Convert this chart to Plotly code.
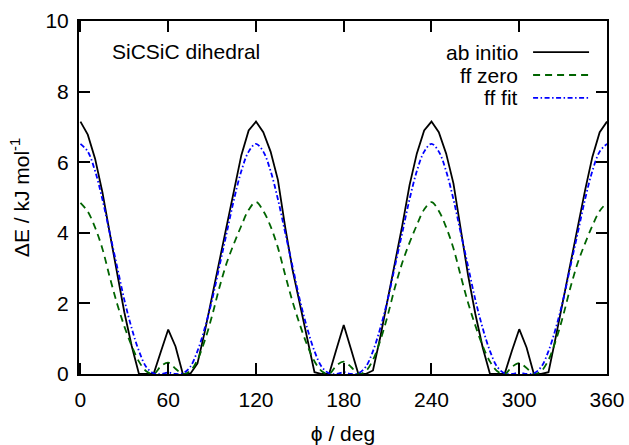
import plotly.graph_objects as go

# Dihedral angle grid (deg)
phi = [0, 5, 10, 15, 20, 25, 30, 35, 40, 45, 50, 55, 60, 65, 70, 75, 80, 85, 90, 95,
       100, 105, 110, 115, 120, 125, 130, 135, 140, 145, 150, 155, 160, 165, 170, 175,
       180, 185, 190, 195, 200, 205, 210, 215, 220, 225, 230, 235, 240, 245, 250, 255,
       260, 265, 270, 275, 280, 285, 290, 295, 300, 305, 310, 315, 320, 325, 330, 335,
       340, 345, 350, 355, 360]

# Relative energies (kJ/mol)
ab_initio = [7.15, 6.78, 6.10, 5.15, 4.00, 2.85, 1.75, 0.80, 0.00, 0.00, 0.00, 0.64, 1.26,
             0.78, 0.00, 0.00, 0.30, 1.20, 2.20, 3.30, 4.30, 5.30, 6.20, 6.90, 7.15, 6.85,
             6.30, 5.50, 4.15, 2.95, 1.95, 0.95, 0.05, 0.00, 0.00, 0.70, 1.39, 0.70, 0.00,
             0.00, 0.10, 1.05, 2.10, 3.10, 4.20, 5.35, 6.25, 6.90, 7.15, 6.85, 6.25, 5.40,
             4.05, 2.80, 1.70, 0.75, 0.00, 0.00, 0.00, 0.66, 1.27, 0.75, 0.00, 0.00, 0.05,
             1.05, 2.10, 3.15, 4.15, 5.20, 6.15, 6.85, 7.15]

ff_zero = [4.85, 4.60, 4.15, 3.55, 2.75, 2.00, 1.35, 0.80, 0.35, 0.08, 0.00, 0.22, 0.32,
           0.15, 0.00, 0.08, 0.40, 0.95, 1.65, 2.45, 3.15, 3.70, 4.20, 4.65, 4.87, 4.62,
           4.18, 3.58, 2.80, 2.05, 1.40, 0.82, 0.36, 0.08, 0.00, 0.24, 0.35, 0.20, 0.00,
           0.08, 0.40, 0.95, 1.65, 2.45, 3.15, 3.72, 4.22, 4.66, 4.87, 4.62, 4.16, 3.56,
           2.78, 2.02, 1.37, 0.80, 0.35, 0.08, 0.00, 0.20, 0.31, 0.17, 0.00, 0.08, 0.40,
           0.95, 1.65, 2.45, 3.15, 3.70, 4.20, 4.62, 4.85]

ff_fit = [6.52, 6.30, 5.75, 4.95, 4.00, 3.05, 2.10, 1.30, 0.65, 0.20, 0.02, 0.00, 0.04,
          0.00, 0.02, 0.20, 0.65, 1.30, 2.10, 3.05, 4.00, 4.95, 5.75, 6.30, 6.52, 6.30,
          5.75, 4.95, 4.00, 3.05, 2.10, 1.30, 0.65, 0.20, 0.02, 0.00, 0.05, 0.00, 0.02,
          0.20, 0.65, 1.30, 2.10, 3.05, 4.00, 4.95, 5.75, 6.30, 6.52, 6.30, 5.75, 4.95,
          4.00, 3.05, 2.10, 1.30, 0.65, 0.20, 0.02, 0.00, 0.04, 0.00, 0.02, 0.20, 0.65,
          1.30, 2.10, 3.05, 4.00, 4.95, 5.75, 6.30, 6.52]

x_ticks = [0, 60, 120, 180, 240, 300, 360]
y_ticks = [0, 2, 4, 6, 8, 10]

FONT = "Liberation Sans, Arial, sans-serif"
FS = 21

series = [
    ("ab initio", ab_initio, "#000000", "solid", "linear"),
    ("ff zero", ff_zero, "#006400", "7px,5px", "spline"),
    ("ff fit", ff_fit, "#0000ff", "5px,2.5px,1.5px,2.5px", "spline"),
]

fig = go.Figure()
for name, vals, color, dash, shape in series:
    fig.add_trace(go.Scatter(
        x=phi, y=vals, mode="lines", name=name, showlegend=False,
        line=dict(color=color, width=1.8, dash=dash, shape=shape),
    ))

axis_common = dict(
    showline=True, linecolor="black", linewidth=2, mirror="ticks",
    ticks="inside", ticklen=11, tickwidth=2, tickcolor="black",
    showgrid=False, zeroline=False, automargin=False,
    tickfont=dict(family=FONT, size=FS, color="black"),
)

fig.update_xaxes(range=[-1, 360], tickvals=x_ticks, ticklabelstandoff=6,
                 title=dict(text="ϕ / deg", font=dict(family=FONT, size=FS, color="black"),
                            standoff=22),
                 **axis_common)
fig.update_yaxes(range=[0, 10], tickvals=y_ticks, ticklabelstandoff=4,
                 title=dict(text="ΔE / kJ mol<sup>-1</sup>",
                            font=dict(family=FONT, size=FS, color="black"), standoff=10),
                 **axis_common)

# Key: label text to the left, line sample to the right
legend_rows = [0.912, 0.847, 0.782]
annotations = [dict(x=0.0587, y=0.915, xref="paper", yref="paper", text="SiCSiC dihedral",
                    showarrow=False, xanchor="left", yanchor="middle",
                    font=dict(family=FONT, size=FS, color="black"))]
shapes = []
for (name, _, color, dash, _), ypos in zip(series, legend_rows):
    annotations.append(dict(x=0.835, y=ypos, xref="paper", yref="paper", text=name,
                            showarrow=False, xanchor="right", yanchor="middle",
                            font=dict(family=FONT, size=FS, color="black")))
    shapes.append(dict(type="line", xref="paper", yref="paper", x0=0.860, x1=0.966,
                       y0=ypos, y1=ypos, line=dict(color=color, width=1.8, dash=dash)))

fig.update_layout(
    width=629, height=445,
    margin=dict(l=79, r=22, t=21, b=71),
    paper_bgcolor="white", plot_bgcolor="white",
    font=dict(family=FONT, size=FS, color="black"),
    annotations=annotations, shapes=shapes,
)

fig.write_html("out.html")
